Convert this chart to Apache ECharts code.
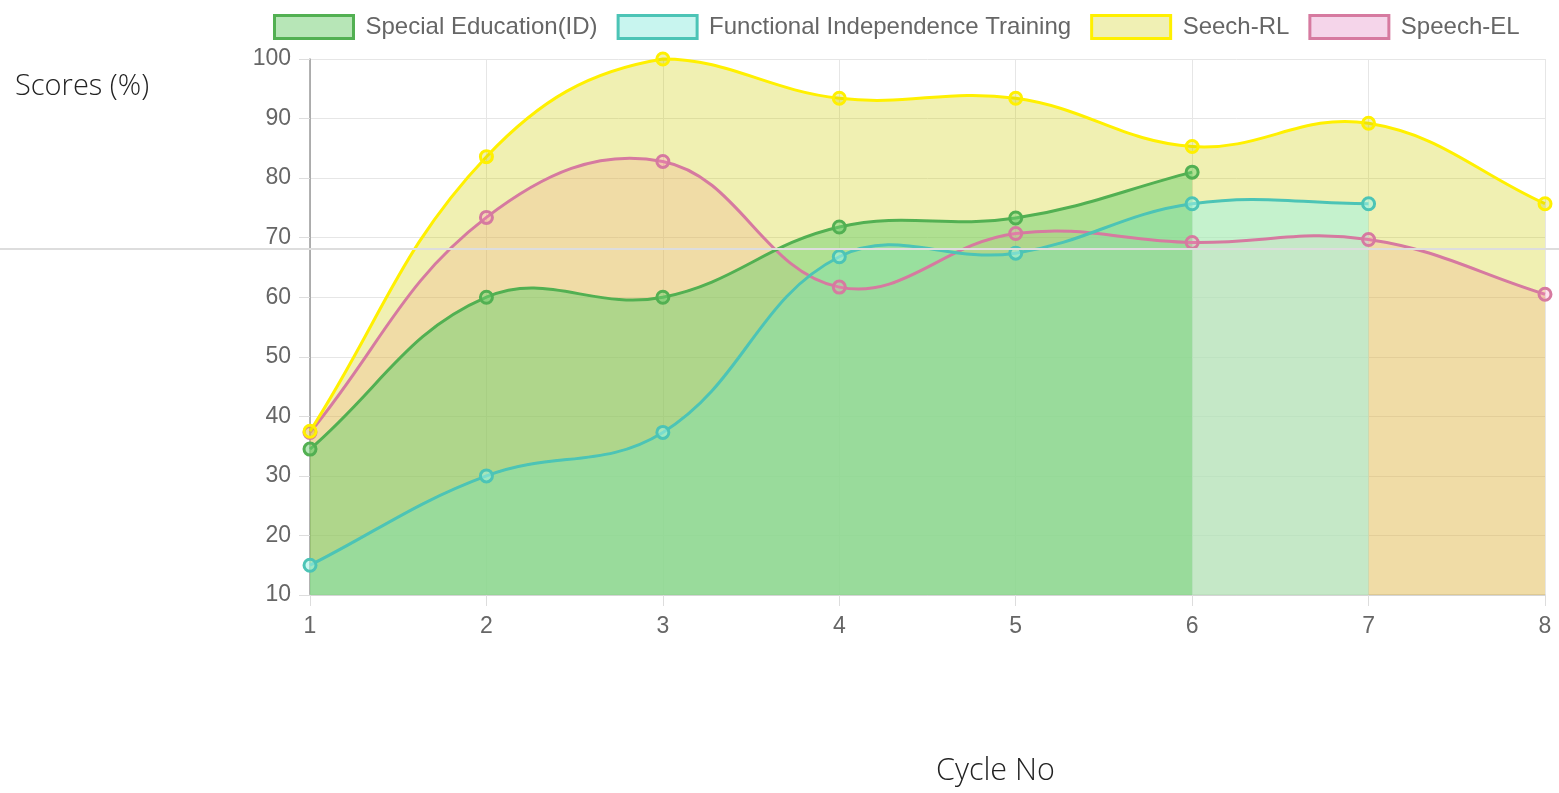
<!DOCTYPE html>
<html>
<head>
<meta charset="utf-8">
<script src="https://cdn.jsdelivr.net/npm/echarts@6/dist/echarts.min.js"></script>
<style>
  html, body { margin: 0; padding: 0; background: #fff; }
  #chart { width: 1559px; height: 793px; }
</style>
</head>
<body>
<div id="chart"></div>
<script>
  // chart values
  var cycles = ['1', '2', '3', '4', '5', '6', '7', '8']
  var seriesNames = ['Special Education(ID)', 'Functional Independence Training', 'Seech-RL', 'Speech-EL']
  var specialEducation = [34.5, 60, 60, 71.8, 73.3, 81]
  var functionalTraining = [15, 30, 37.3, 66.8, 67.4, 75.7, 75.7]
  var speechRL = [37.5, 83.6, 100, 93.4, 93.4, 85.3, 89.2, 75.7]
  var speechEL = [37.3, 73.4, 82.8, 61.7, 70.7, 69.2, 69.7, 60.5]
  var yTicks = { min: 10, max: 100, interval: 10 }

  var values = [specialEducation, functionalTraining, speechRL, speechEL]
  var lineColors = ['rgb(82,176,82)', 'rgb(76,196,182)', 'rgb(255,240,0)', 'rgb(214,122,160)']
  var fillColors = ['rgba(109,208,112,0.5)', 'rgba(160,242,226,0.55)', 'rgba(204,204,0,0.3)', 'rgba(255,139,187,0.25)']
  var legendColors = ['rgb(183,230,183)', 'rgb(200,245,239)', 'rgb(240,240,180)', 'rgb(245,213,234)']
  var tension = 0.4

  // bezier control points the way chart.js builds them (tension 0.4, capped to the plot area)
  function splinePath (pts, area) {
    var cap = function (p) {
      return [
        Math.max(area.x, Math.min(area.x + area.width, p[0])),
        Math.max(area.y, Math.min(area.y + area.height, p[1]))
      ]
    }
    var cps = pts.map(function (cur, i) {
      var prev = pts[i - 1] || cur
      var next = pts[i + 1] || cur
      var d01 = Math.hypot(cur[0] - prev[0], cur[1] - prev[1])
      var d12 = Math.hypot(next[0] - cur[0], next[1] - cur[1])
      var fa = tension * (d01 / (d01 + d12) || 0)
      var fb = tension * (d12 / (d01 + d12) || 0)
      return {
        prev: cap([cur[0] - fa * (next[0] - prev[0]), cur[1] - fa * (next[1] - prev[1])]),
        next: cap([cur[0] + fb * (next[0] - prev[0]), cur[1] + fb * (next[1] - prev[1])])
      }
    })
    var d = 'M' + pts[0][0] + ' ' + pts[0][1]
    for (var i = 0; i < pts.length - 1; i++) {
      var a = cps[i].next
      var b = cps[i + 1].prev
      d += ' C' + a[0] + ' ' + a[1] + ' ' + b[0] + ' ' + b[1] + ' ' + pts[i + 1][0] + ' ' + pts[i + 1][1]
    }
    return d
  }

  // kind: 'fill' draws the area down to the axis, 'line' draws the curve itself
  function makeCurveSeries (k, kind, z) {
    var vals = values[k]
    return {
      name: seriesNames[k],
      type: 'custom',
      z: z,
      silent: true,
      data: vals.map(function (v, i) { return [i, v] }),
      renderItem: function (params, api) {
        if (params.dataIndex !== 0) return
        var pts = vals.map(function (v, i) { return api.coord([i, v]) })
        var line = splinePath(pts, params.coordSys)
        if (kind === 'line') {
          return { type: 'path', shape: { pathData: line }, style: { fill: 'none', stroke: lineColors[k], lineWidth: 3 } }
        }
        var base = api.coord([0, yTicks.min])[1]
        var fill = line + ' L' + pts[pts.length - 1][0] + ' ' + base + ' L' + pts[0][0] + ' ' + base + ' Z'
        return { type: 'path', shape: { pathData: fill }, style: { fill: fillColors[k] } }
      }
    }
  }

  function makePointSeries (k, z) {
    return {
      name: seriesNames[k],
      type: 'scatter',
      z: z,
      data: values[k],
      symbol: 'circle',
      symbolSize: 12,
      itemStyle: { color: fillColors[k], borderColor: lineColors[k], borderWidth: 3, opacity: 1 }
    }
  }

  // all fills first (last dataset at the bottom), then lines and points on top
  var order = [3, 2, 1, 0]
  var series = []
  order.forEach(function (k, n) {
    series.push(makeCurveSeries(k, 'fill', 2 + n))
  })
  order.forEach(function (k, n) {
    series.push(makeCurveSeries(k, 'line', 10 + n * 2))
    series.push(makePointSeries(k, 11 + n * 2))
  })

  var chart = echarts.init(document.getElementById('chart'))
  chart.setOption({
    animation: false,
    textStyle: { fontFamily: 'Liberation Sans, Arial, sans-serif' },
    legend: {
      top: 9,
      left: 268,
      icon: 'rect',
      itemWidth: 79,
      itemHeight: 23,
      itemGap: 19,
      textStyle: { fontSize: 24, color: '#666', padding: [0, 0, 0, 7] },
      data: seriesNames.map(function (name, i) {
        return {
          name: name,
          itemStyle: { color: legendColors[i], borderColor: lineColors[i], borderWidth: 3 }
        }
      })
    },
    grid: { left: 310, right: 14, top: 59, bottom: 198 },
    xAxis: {
      type: 'category',
      data: cycles,
      boundaryGap: false,
      axisLine: { lineStyle: { color: '#d0d0d0', width: 1.5 } },
      axisTick: { show: true, length: 11, lineStyle: { color: '#ddd' } },
      axisLabel: { fontSize: 23, color: '#666', margin: 20 },
      splitLine: { show: true, lineStyle: { color: '#e6e6e6' } }
    },
    yAxis: {
      type: 'value',
      min: yTicks.min,
      max: yTicks.max,
      interval: yTicks.interval,
      axisLine: { show: true, lineStyle: { color: '#999', width: 1.5 } },
      axisTick: { show: true, length: 11, lineStyle: { color: '#ddd' } },
      axisLabel: { fontSize: 23, color: '#666', margin: 19 },
      splitLine: { show: true, lineStyle: { color: '#e6e6e6' } }
    },
    graphic: [
      {
        type: 'text',
        left: 15,
        top: 72,
        style: { text: 'Scores (%)', fontSize: 29, fontWeight: 300, fill: '#222', fontFamily: 'Open Sans, Noto Sans, sans-serif' }
      },
      {
        type: 'text',
        left: 936,
        top: 756,
        style: { text: 'Cycle No', fontSize: 30.5, fontWeight: 300, fill: '#222', fontFamily: 'Open Sans, Noto Sans, sans-serif' }
      },
      {
        type: 'line',
        z: 100,
        shape: { x1: 0, y1: 249, x2: 1559, y2: 249 },
        style: { stroke: '#ddd', lineWidth: 2 }
      }
    ],
    series: series
  })
</script>
</body>
</html>
